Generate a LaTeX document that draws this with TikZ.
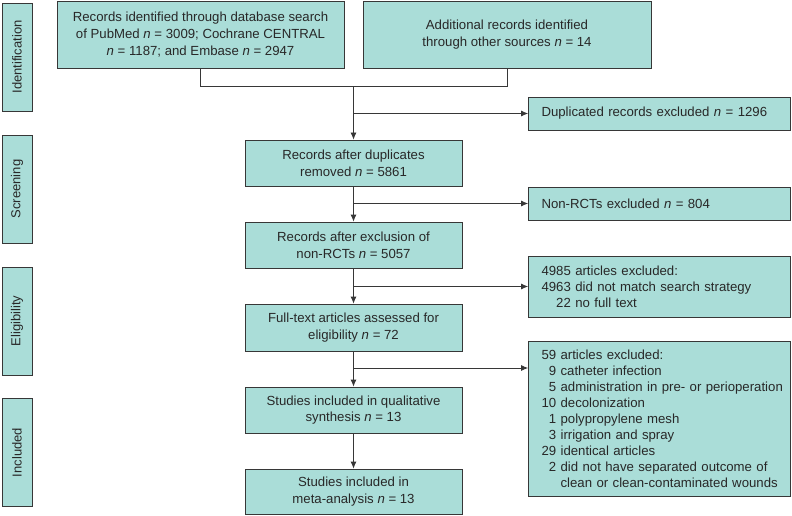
\documentclass[tikz,border=0pt]{standalone}
\usepackage{fontspec}
\setmainfont{Liberation Sans}
\usetikzlibrary{arrows.meta}
\definecolor{boxfill}{RGB}{170,221,216}
\definecolor{lineclr}{RGB}{55,55,55}
\definecolor{txtclr}{RGB}{40,40,40}
\begin{document}
\begin{tikzpicture}[x=1pt,y=-1pt,
  box/.style={draw=lineclr,line width=0.8pt,fill=boxfill,inner sep=0pt,
    font=\fontsize{13.2}{16.7}\selectfont,text=txtclr,align=center},
  sidebox/.style={box,minimum width=30pt,minimum height=108pt},
  sidelabel/.style={rotate=90,font=\fontsize{13}{16}\selectfont,text=txtclr},
  rbox/.style={box,align=left,font=\fontsize{13.2}{16}\selectfont,
    minimum width=262pt,text width=236pt},
  conn/.style={draw=lineclr,line width=0.8pt},
  arr/.style={conn,-{Latex[length=7pt,width=6pt]}}]
\useasboundingbox (0,0) rectangle (792,516);
% side labels
\node[sidebox] (sid) at (17,57) {};
\node[sidelabel] (sidl) at (sid.center) {Identification};
\node[sidebox] (ssc) at (17,189) {};
\node[sidelabel] (sscl) at (ssc.center) {Screening};
\node[sidebox] (sel) at (17,321) {};
\node[sidelabel] (sell) at (sel.center) {Eligibility};
\node[sidebox] (sin) at (17,452.5) {};
\node[sidelabel] (sinl) at (sin.center) {Included};
% top boxes
\node[box,minimum width=287pt,minimum height=67pt] (db) at (200.5,34.5)
  {Records identified through database search\\of PubMed \textit{n} = 3009; Cochrane CENTRAL\\\textit{n} = 1187; and Embase \textit{n} = 2947};
\node[box,minimum width=288pt,minimum height=67pt] (other) at (507,34.5)
  {Additional records identified\\through other sources \textit{n} = 14};
% central column
\node[box,minimum width=217pt,minimum height=46pt] (dup) at (353.5,163)
  {Records after duplicates\\removed \textit{n} = 5861};
\node[box,minimum width=217pt,minimum height=46pt] (excl) at (353.5,245)
  {Records after exclusion of\\non-RCTs \textit{n} = 5057};
\node[box,minimum width=217pt,minimum height=47pt] (full) at (353.5,327.5)
  {Full-text articles assessed for\\eligibility \textit{n} = 72};
\node[box,minimum width=217pt,minimum height=46pt] (qual) at (353.5,410)
  {Studies included in qualitative\\synthesis \textit{n} = 13};
\node[box,minimum width=217pt,minimum height=45pt] (meta) at (353.5,491.5)
  {Studies included in\\meta-analysis \textit{n} = 13};
% right column
\node[rbox,minimum height=33pt] (dupx) at (659.5,113.5)
  {Duplicated records excluded \textit{n} = 1296};
\node[rbox,minimum height=33pt] (nonrct) at (659.5,203.5)
  {Non-RCTs excluded \textit{n} = 804};
\node[rbox,minimum height=61pt] (exa) at (659.5,286.5)
  {4985 articles excluded:\\\mbox{4963 did not match search strategy}\\\phantom{49}22 no full text};
\node[rbox,minimum height=155pt] (exb) at (659.5,418.5)
  {59 articles excluded:\\
   \phantom{5}9 catheter infection\\
   \makebox[236pt][l]{\phantom{5}5 administration in pre- or perioperation}\\
   10 decolonization\\
   \phantom{5}1 polypropylene mesh\\
   \phantom{5}3 irrigation and spray\\
   29 identical articles\\
   \makebox[236pt][l]{\phantom{5}2 did not have separated outcome of}\\
   \makebox[236pt][l]{\phantom{52 }clean or clean-contaminated wounds}};
% connectors
\coordinate (j) at (353.5,86.7);
\coordinate (bb) at (353.5,368);
\draw[conn] (db.south) |- (j);
\draw[conn] (other.south) |- (j);
\draw[arr] (j) -- (dup.north);
\draw[arr] (j |- dupx.west) -- (dupx.west);
\draw[arr] (dup.south) -- (excl.north);
\draw[arr] (dup.south |- nonrct.west) -- (nonrct.west);
\draw[arr] (excl.south) -- (full.north);
\draw[arr] (excl.south |- exa.west) -- (exa.west);
\draw[arr] (full.south) -- (qual.north);
\draw[arr] (bb) -- (bb -| exb.west);
\draw[arr] (qual.south) -- (meta.north);
\end{tikzpicture}
\end{document}
